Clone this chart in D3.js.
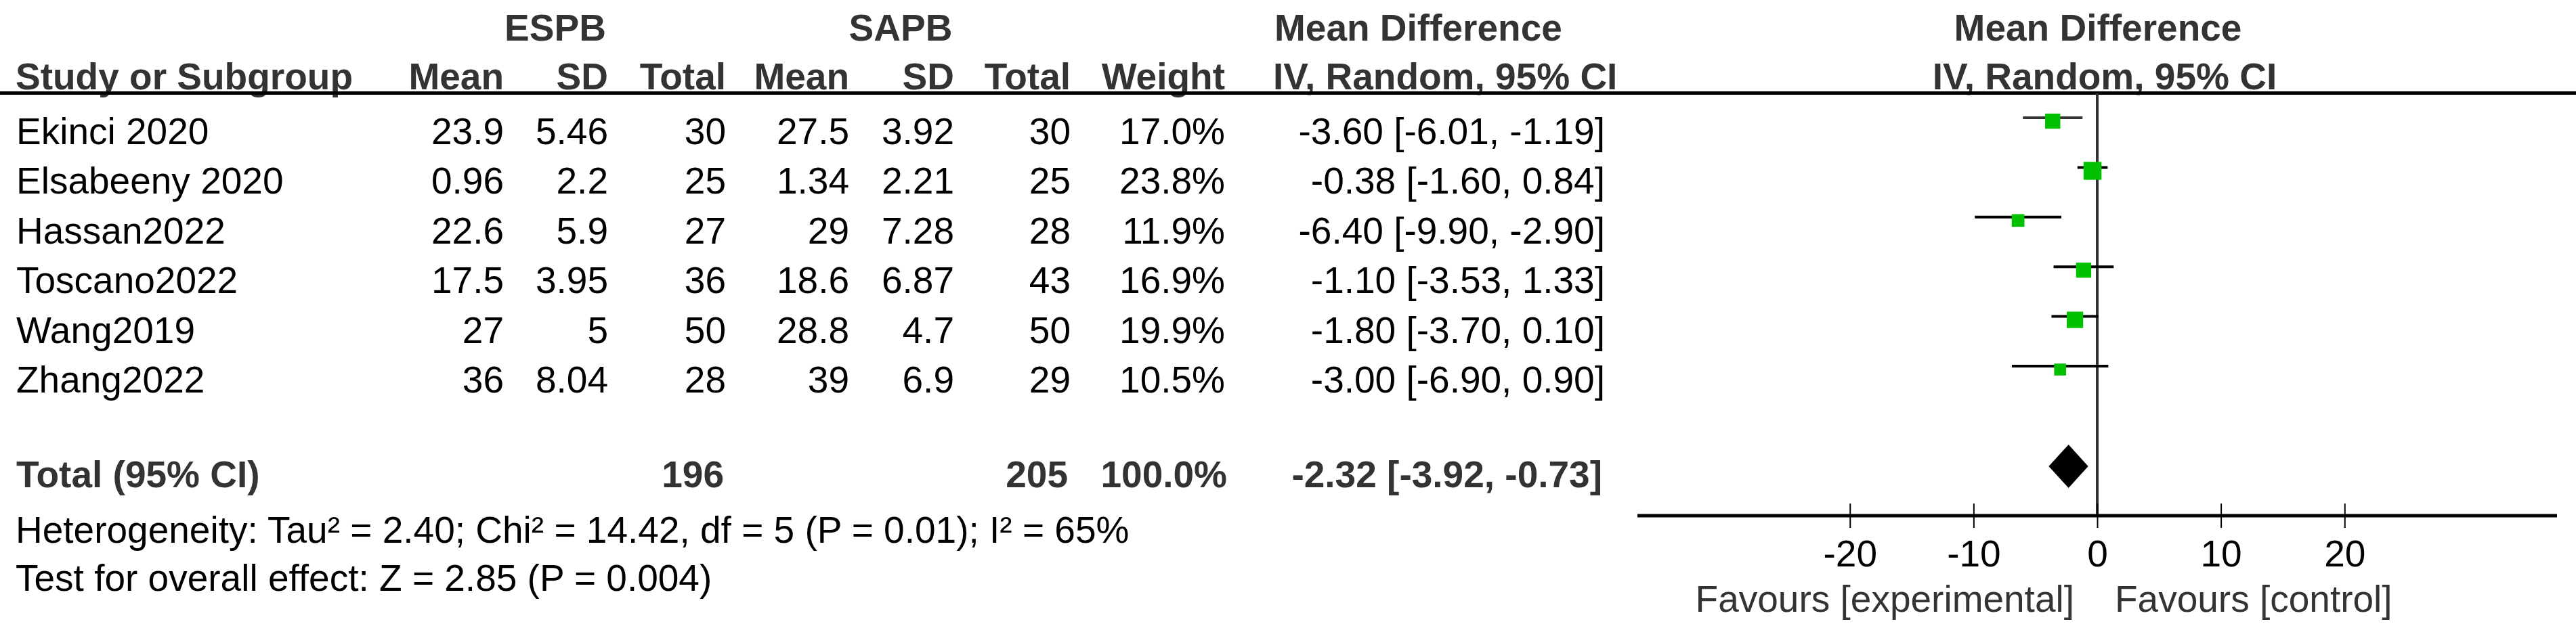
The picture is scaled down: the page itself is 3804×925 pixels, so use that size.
<!DOCTYPE html>
<html>
<head>
<meta charset="utf-8">
<script src="https://cdn.jsdelivr.net/npm/d3@7"></script>
<style>
  html, body { margin: 0; padding: 0; background: #fff; }
  svg { display: block; font-family: "Liberation Sans", Arial, sans-serif; }
</style>
</head>
<body>
<div id="chart"></div>
<script>
// ── Data ─────────────────────────────────────────────────────────────────
const studies   = ["Ekinci 2020", "Elsabeeny 2020", "Hassan2022", "Toscano2022", "Wang2019", "Zhang2022"];
const espbMean  = [23.9, 0.96, 22.6, 17.5, 27, 36];
const espbSD    = [5.46, 2.2, 5.9, 3.95, 5, 8.04];
const espbTotal = [30, 25, 27, 36, 50, 28];
const sapbMean  = [27.5, 1.34, 29, 18.6, 28.8, 39];
const sapbSD    = [3.92, 2.21, 7.28, 6.87, 4.7, 6.9];
const sapbTotal = [30, 25, 28, 43, 50, 29];
const weights   = [17.0, 23.8, 11.9, 16.9, 19.9, 10.5];
const meanDiff  = [-3.60, -0.38, -6.40, -1.10, -1.80, -3.00];
const ciLow     = [-6.01, -1.60, -9.90, -3.53, -3.70, -6.90];
const ciHigh    = [-1.19, 0.84, -2.90, 1.33, 0.10, 0.90];

const groupTotals = [196, 205];
const pooled      = [-2.32, -3.92, -0.73];   // estimate, low, high
const axisTicks   = [-20, -10, 0, 10, 20];
const hetText     = "Heterogeneity: Tau\u00b2 = 2.40; Chi\u00b2 = 14.42, df = 5 (P = 0.01); I\u00b2 = 65%";
const testText    = "Test for overall effect: Z = 2.85 (P = 0.004)";

const W = 3804, H = 925;
const FS = 55;
const HEAD = "#333";

const svg = d3.select("#chart").append("svg")
    .attr("width", W).attr("height", H);

svg.append("rect").attr("width", W).attr("height", H).attr("fill", "#fff");

// Column right edges (table)
const col = {
    study: 24, eMean: 744, eSD: 898, eTot: 1072,
    sMean: 1254, sSD: 1409, sTot: 1581, weight: 1809, ci: 2370
};

// Rows: text baselines
const rowY = d3.scaleLinear().domain([0, studies.length - 1]).range([213, 580]);
const totalY = 720;

// Forest scale
const x = d3.scaleLinear().domain([-37.18, 37.18]).range([2418, 3776]);
const sizeScale = d3.scaleSqrt().domain([0, d3.max(weights)]).range([0, 26.5]);

function txt(xp, yp, s, anchor, bold) {
    return svg.append("text")
        .attr("x", xp).attr("y", yp)
        .attr("text-anchor", anchor || "start")
        .style("font-size", FS + "px")
        .style("font-weight", bold ? "700" : "400")
        .style("fill", bold ? HEAD : "#000")
        .text(s);
}

// ── Headers ────────────────────────────────────────────────────────────
txt(820, 60, "ESPB", "middle", true);
txt(1330, 60, "SAPB", "middle", true);
txt(1882, 60, "Mean Difference", "start", true);
txt(3098, 60, "Mean Difference", "middle", true);

txt(col.study - 1, 132, "Study or Subgroup", "start", true);
txt(col.eMean, 132, "Mean", "end", true);
txt(col.eSD, 132, "SD", "end", true);
txt(col.eTot, 132, "Total", "end", true);
txt(col.sMean, 132, "Mean", "end", true);
txt(col.sSD, 132, "SD", "end", true);
txt(col.sTot, 132, "Total", "end", true);
txt(col.weight, 132, "Weight", "end", true);
txt(1880, 132, "IV, Random, 95% CI", "start", true);
txt(3108, 132, "IV, Random, 95% CI", "middle", true);

// header rule
svg.append("line")
    .attr("x1", 0).attr("x2", W)
    .attr("y1", 137.5).attr("y2", 137.5)
    .attr("stroke", "#000").attr("stroke-width", 5);

// ── Study rows ─────────────────────────────────────────────────────────
const fmtCI = (m, l, h) => `${m.toFixed(2)} [${l.toFixed(2)}, ${h.toFixed(2)}]`;

studies.forEach((s, i) => {
    const y = rowY(i);
    txt(col.study, y, s, "start");
    txt(col.eMean, y, String(espbMean[i]), "end");
    txt(col.eSD, y, String(espbSD[i]), "end");
    txt(col.eTot, y, String(espbTotal[i]), "end");
    txt(col.sMean, y, String(sapbMean[i]), "end");
    txt(col.sSD, y, String(sapbSD[i]), "end");
    txt(col.sTot, y, String(sapbTotal[i]), "end");
    txt(col.weight, y, weights[i].toFixed(1) + "%", "end");
    txt(col.ci, y, fmtCI(meanDiff[i], ciLow[i], ciHigh[i]), "end");
});

// Total row
txt(col.study, totalY, "Total (95% CI)", "start", true);
txt(col.eTot - 3, totalY, String(groupTotals[0]), "end", true);
txt(col.sTot - 4, totalY, String(groupTotals[1]), "end", true);
txt(col.weight + 3, totalY, "100.0%", "end", true);
txt(col.ci - 4, totalY, fmtCI(pooled[0], pooled[1], pooled[2]), "end", true);

txt(col.study - 1, 802, hetText, "start");
txt(col.study - 1, 873, testText, "start");

// ── Forest plot ────────────────────────────────────────────────────────
const axisY = 762;

// zero line
svg.append("line")
    .attr("x1", x(0)).attr("x2", x(0))
    .attr("y1", 138).attr("y2", axisY)
    .attr("stroke", "#333").attr("stroke-width", 4);

const marks = svg.append("g");
studies.forEach((s, i) => {
    const cy = rowY(i) - 39;
    marks.append("line")
        .attr("x1", x(ciLow[i])).attr("x2", x(ciHigh[i]))
        .attr("y1", cy).attr("y2", cy)
        .attr("stroke", i === 0 ? "#333" : "#000").attr("stroke-width", 4);
    const sz = sizeScale(weights[i]);
    marks.append("rect")
        .attr("x", x(meanDiff[i]) - sz / 2)
        .attr("y", cy + 5 - sz / 2)
        .attr("width", sz).attr("height", sz)
        .attr("fill", "#00c000");
});

// pooled diamond
const dy = 689, dh = 32;
marks.append("path")
    .attr("d", `M${x(pooled[1])},${dy} L${x(pooled[0])},${dy - dh} L${x(pooled[2])},${dy} L${x(pooled[0])},${dy + dh} Z`)
    .attr("fill", "#000");

// axis
const axisG = svg.append("g")
    .attr("transform", `translate(0,${axisY})`)
    .call(d3.axisBottom(x).tickValues(axisTicks).tickSizeOuter(0).tickFormat(d3.format("d")));

axisG.select(".domain").remove();
axisG.append("line")
    .attr("x1", x.range()[0]).attr("x2", x.range()[1])
    .attr("stroke", "#000").attr("stroke-width", 5);
axisG.selectAll(".tick line")
    .attr("y1", -18).attr("y2", 18)
    .attr("stroke", "#000").attr("stroke-width", 2);
axisG.selectAll(".tick text")
    .attr("y", 75).attr("dy", 0)
    .style("font-size", FS + "px")
    .style("font-family", "'Liberation Sans', Arial, sans-serif")
    .style("fill", "#000")
    .text(d => d < 0 ? "-" + Math.abs(d) : String(d));

// favours labels
svg.append("text")
    .attr("x", x(0) - 34).attr("y", 904)
    .attr("text-anchor", "end")
    .style("font-size", FS + "px").style("fill", HEAD)
    .text("Favours [experimental]");
svg.append("text")
    .attr("x", x(0) + 26).attr("y", 904)
    .attr("text-anchor", "start")
    .style("font-size", FS + "px").style("fill", HEAD)
    .text("Favours [control]");
</script>
</body>
</html>
